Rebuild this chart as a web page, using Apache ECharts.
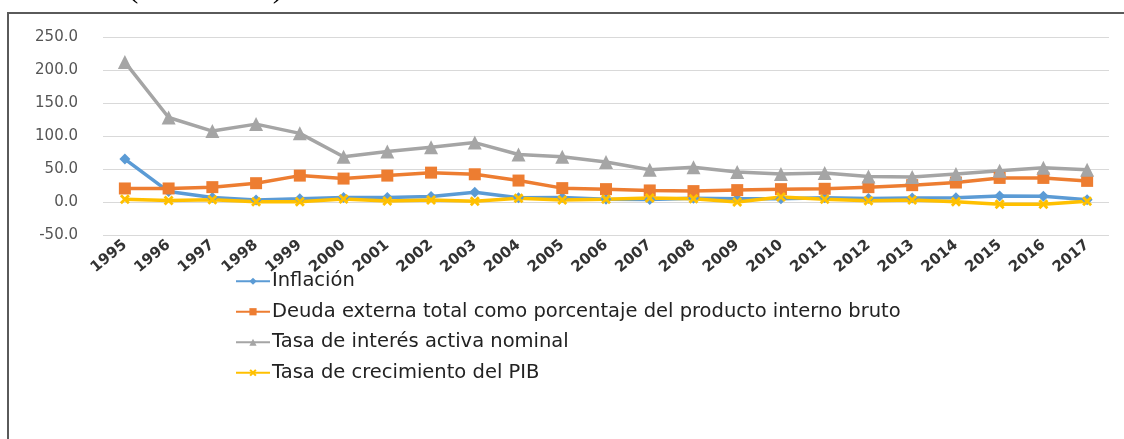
<!DOCTYPE html>
<html>
<head>
<meta charset="utf-8">
<script src="https://cdn.jsdelivr.net/npm/echarts@6/dist/echarts.min.js"></script>
<style>
html,body{margin:0;padding:0;background:#fff;}
#c{width:1124px;height:439px;}
</style>
</head>
<body>
<div id="c"></div>
<script>
var years = ['1995','1996','1997','1998','1999','2000','2001','2002','2003','2004','2005','2006','2007','2008','2009','2010','2011','2012','2013','2014','2015','2016','2017'];
var inflacion = [65.0, 15.8, 6.9, 3.2, 4.9, 7.0, 6.8, 8.5, 14.7, 6.6, 6.9, 4.2, 3.6, 5.7, 4.9, 5.0, 6.6, 5.4, 6.2, 6.3, 9.0, 8.7, 3.4];
var deuda = [20.5, 20.5, 22.5, 28.5, 40.0, 35.5, 40.0, 44.5, 42.0, 32.5, 21.0, 19.5, 17.5, 16.5, 18.0, 19.5, 20.0, 22.5, 25.5, 29.5, 36.5, 36.5, 32.0];
var tasaInteres = [212.0, 128.0, 107.5, 118.0, 104.0, 68.5, 76.5, 83.0, 90.0, 72.0, 68.5, 60.5, 49.0, 52.5, 45.5, 42.5, 44.0, 38.5, 38.0, 42.5, 47.5, 52.0, 49.0];
var pib = [4.2, 2.2, 3.4, 0.3, 0.5, 4.4, 1.4, 3.1, 1.1, 5.8, 3.2, 4.0, 6.1, 5.1, -0.1, 7.5, 4.0, 1.9, 3.0, 0.5, -3.5, -3.3, 1.3];
var seriesNames = ['Inflación','Deuda externa total como porcentaje del producto interno bruto','Tasa de interés activa nominal','Tasa de crecimiento del PIB'];
var yTicks = {min:-50, max:250, interval:50};

var chart = echarts.init(document.getElementById('c'));
var font = 'DejaVu Sans';
function mk(name, data, color, symbol, size){
  return {name:name, type:'line', data:data, symbol:symbol, symbolSize:size,
    lineStyle:{color:color, width:3.5}, itemStyle:{color:color}, z:2};
}
chart.setOption({
  animation:false,
  graphic:[
    {type:'rect', shape:{x:8,y:13,width:1130,height:440}, style:{fill:'none', stroke:'#5a5a5a', lineWidth:2}},
    {type:'text', left:128, top:-27, style:{text:'(1995-2017).', font:'31px "Liberation Serif"', fill:'#000'}}
  ],
  grid:{left:103, right:15, top:37, bottom:204, containLabel:false},
  legend:{
    orient:'vertical', left:230, top:265, itemGap:8, itemWidth:34, itemHeight:9,
    textStyle:{fontFamily:font, fontSize:19.5, lineHeight:22.5, color:'#222', padding:[0,0,0,-3]},
    data:seriesNames
  },
  xAxis:{type:'category', data:years, boundaryGap:true,
    axisLine:{show:false}, axisTick:{show:false},
    axisLabel:{rotate:40, fontFamily:font, fontSize:15, color:'#333', fontWeight:'bold', margin:8}},
  yAxis:{type:'value', min:yTicks.min, max:yTicks.max, interval:yTicks.interval,
    axisLine:{show:false}, axisTick:{show:false},
    splitLine:{lineStyle:{color:'#d9d9d9', width:1}},
    axisLabel:{fontFamily:font, fontSize:15, color:'#555', margin:25,
      formatter:function(v){return v.toFixed(1);}}},
  series:[
    mk(seriesNames[0], inflacion, '#5B9BD5', 'diamond', 11),
    mk(seriesNames[1], deuda, '#ED7D31', 'rect', 12),
    mk(seriesNames[2], tasaInteres, '#A5A5A5', 'triangle', 14),
    mk(seriesNames[3], pib, '#FFC000', 'path://M2,0 L5,3 L8,0 L10,2 L7,5 L10,8 L8,10 L5,7 L2,10 L0,8 L3,5 L0,2 Z', 10)
  ]
});
</script>
</body>
</html>
